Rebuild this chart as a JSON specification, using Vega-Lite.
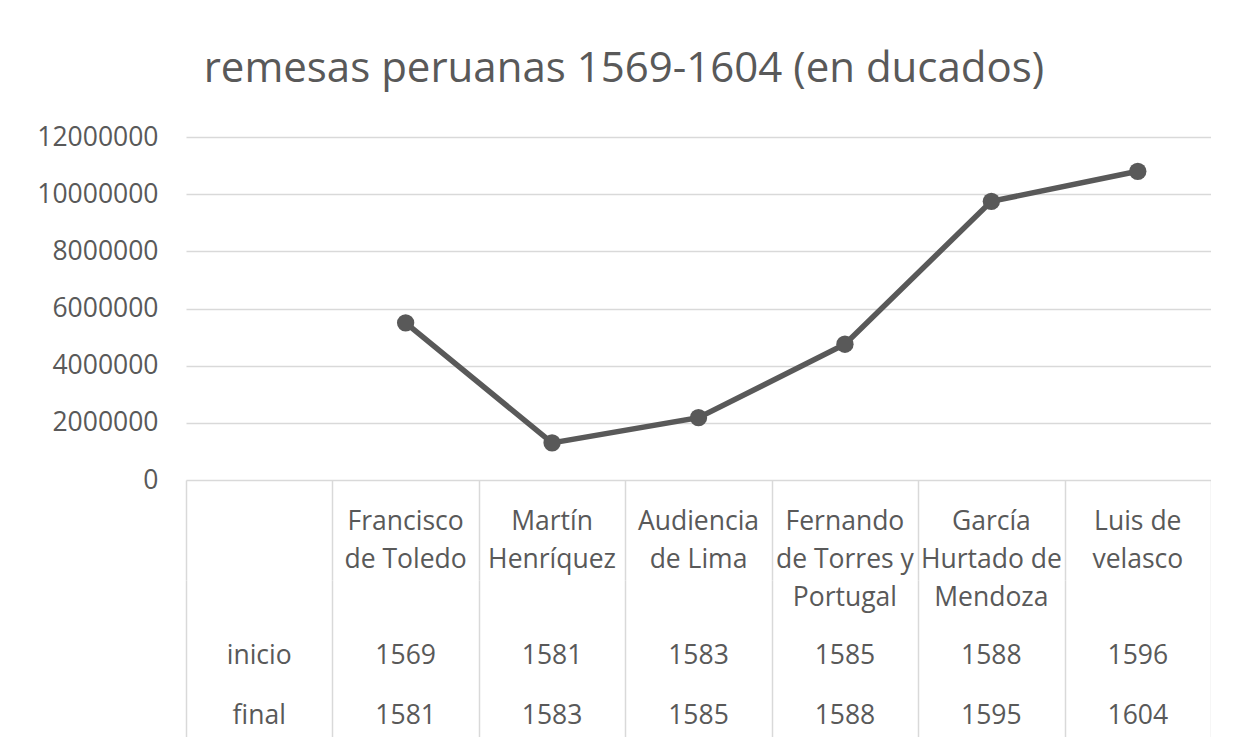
{
  "$schema": "https://vega.github.io/schema/vega-lite/v6.json",
  "padding": {"left": 36, "top": 48, "right": 0, "bottom": 0},
  "background": "white",
  "title": {
    "text": "remesas peruanas 1569-1604 (en ducados)",
    "fontSize": 42,
    "font": "Open Sans",
    "fontWeight": "normal",
    "color": "#595959",
    "anchor": "middle",
    "frame": "bounds",
    "offset": 33
  },
  "datasets": {
    "virreyes": [
      {"virrey": "", "etiqueta": "", "remesa": null, "inicio": "inicio", "final": "final"},
      {"virrey": "Francisco de Toledo", "etiqueta": "Francisco\nde Toledo", "remesa": 5500000, "inicio": 1569, "final": 1581},
      {"virrey": "Martín Henríquez", "etiqueta": "Martín\nHenríquez", "remesa": 1300000, "inicio": 1581, "final": 1583},
      {"virrey": "Audiencia de Lima", "etiqueta": "Audiencia\nde Lima", "remesa": 2180000, "inicio": 1583, "final": 1585},
      {"virrey": "Fernando de Torres y Portugal", "etiqueta": "Fernando\nde Torres y\nPortugal", "remesa": 4750000, "inicio": 1585, "final": 1588},
      {"virrey": "García Hurtado de Mendoza", "etiqueta": "García\nHurtado de\nMendoza", "remesa": 9750000, "inicio": 1588, "final": 1595},
      {"virrey": "Luis de velasco", "etiqueta": "Luis de\nvelasco", "remesa": 10800000, "inicio": 1596, "final": 1604}
    ]
  },
  "data": {"name": "virreyes"},
  "spacing": 0,
  "bounds": "flush",
  "vconcat": [
    {
      "width": 1025,
      "height": 343,
      "transform": [{"filter": "datum.remesa != null"}],
      "encoding": {
        "x": {
          "field": "virrey",
          "type": "nominal",
          "sort": null,
          "scale": {"type": "band", "domain": ["", "Francisco de Toledo", "Martín Henríquez", "Audiencia de Lima", "Fernando de Torres y Portugal", "García Hurtado de Mendoza", "Luis de velasco"], "paddingInner": 0, "paddingOuter": 0},
          "axis": null
        },
        "y": {
          "field": "remesa",
          "type": "quantitative",
          "scale": {"domain": [0, 12000000], "nice": false},
          "axis": {
            "values": [0, 2000000, 4000000, 6000000, 8000000, 10000000, 12000000],
            "format": "d",
            "grid": true,
            "gridColor": "#d9d9d9",
            "gridWidth": 1.5,
            "domain": false,
            "ticks": false,
            "labelFont": "Open Sans",
            "labelFontSize": 26.5,
            "labelColor": "#595959",
            "labelPadding": 28,
            "title": null
          }
        }
      },
      "layer": [
        {"mark": {"type": "line", "color": "#595959", "strokeWidth": 5.5}},
        {"mark": {"type": "point", "filled": true, "opacity": 1, "color": "#595959", "size": 300}}
      ]
    },
    {
      "width": 1025,
      "height": 100,
      "mark": {"type": "text", "font": "Open Sans", "fontSize": 26.5, "color": "#595959", "baseline": "alphabetic", "align": "center", "lineBreak": "\n", "lineHeight": 38},
      "encoding": {
        "x": {
          "field": "virrey",
          "type": "nominal",
          "sort": null,
          "scale": {"type": "band", "domain": ["", "Francisco de Toledo", "Martín Henríquez", "Audiencia de Lima", "Fernando de Torres y Portugal", "García Hurtado de Mendoza", "Luis de velasco"], "paddingInner": 0, "paddingOuter": 0},
          "axis": {"grid": true, "tickBand": "extent", "gridColor": "#d9d9d9", "gridWidth": 1.5, "labels": false, "ticks": false, "domain": false, "title": null}
        },
        "text": {"field": "etiqueta", "type": "nominal"}
      }
    },
    {
      "width": 1025,
      "height": 157,
      "transform": [{"fold": ["inicio", "final"], "as": ["fila", "valor"]}],
      "mark": {"type": "text", "font": "Open Sans", "fontSize": 26.5, "color": "#595959", "baseline": "alphabetic", "align": "center"},
      "encoding": {
        "x": {
          "field": "virrey",
          "type": "nominal",
          "sort": null,
          "scale": {"type": "band", "domain": ["", "Francisco de Toledo", "Martín Henríquez", "Audiencia de Lima", "Fernando de Torres y Portugal", "García Hurtado de Mendoza", "Luis de velasco"], "paddingInner": 0, "paddingOuter": 0},
          "axis": {"grid": true, "tickBand": "extent", "gridColor": "#d9d9d9", "gridWidth": 1.5, "labels": false, "ticks": false, "domain": false, "title": null}
        },
        "y": {
          "field": "fila",
          "type": "nominal",
          "sort": null,
          "scale": {"type": "point", "domain": ["inicio", "final"], "padding": 0.808, "align": 0.866},
          "axis": null
        },
        "text": {"field": "valor", "type": "nominal"}
      }
    }
  ],
  "config": {
    "view": {"stroke": null},
    "font": "Open Sans"
  }
}
